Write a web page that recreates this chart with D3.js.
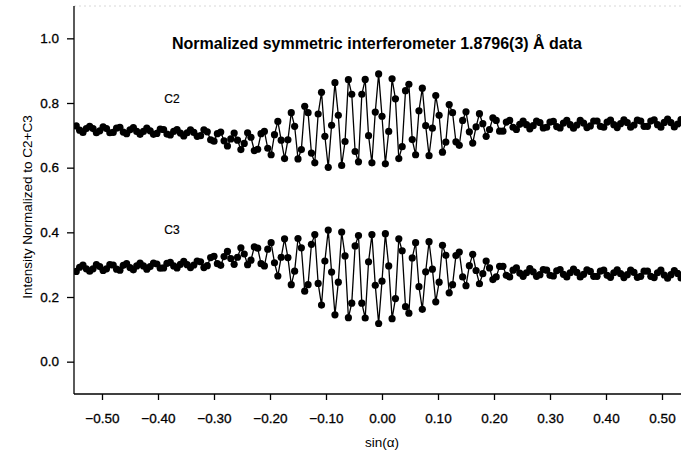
<!DOCTYPE html>
<html>
<head>
<meta charset="utf-8">
<script src="https://cdn.jsdelivr.net/npm/d3@7"></script>
<style>
    body { margin: 0; background: #fff; }
    svg { display: block; font-family: "Liberation Sans", Arial, sans-serif; }
</style>
</head>
<body>
<div id="chart"></div>
<script>
// DATA
// sin(alpha) sample positions
const sinAlpha = [
    -0.546, -0.540, -0.534, -0.528, -0.522, -0.516, -0.510, -0.504, -0.498, -0.492,
    -0.486, -0.480, -0.474, -0.468, -0.462, -0.456, -0.450, -0.444, -0.438, -0.432,
    -0.426, -0.420, -0.414, -0.408, -0.402, -0.396, -0.390, -0.384, -0.378, -0.372,
    -0.366, -0.360, -0.354, -0.348, -0.342, -0.336, -0.330, -0.324, -0.318, -0.312,
    -0.306, -0.300, -0.294, -0.288, -0.282, -0.276, -0.270, -0.264, -0.258, -0.252,
    -0.246, -0.240, -0.234, -0.228, -0.222, -0.216, -0.210, -0.204, -0.198, -0.192,
    -0.186, -0.180, -0.174, -0.168, -0.162, -0.156, -0.150, -0.144, -0.138, -0.132,
    -0.126, -0.120, -0.114, -0.108, -0.102, -0.096, -0.090, -0.084, -0.078, -0.072,
    -0.066, -0.060, -0.054, -0.048, -0.042, -0.036, -0.030, -0.024, -0.018, -0.012,
    -0.006, 0.000, 0.006, 0.012, 0.018, 0.024, 0.030, 0.036, 0.042, 0.048,
    0.054, 0.060, 0.066, 0.072, 0.078, 0.084, 0.090, 0.096, 0.102, 0.108,
    0.114, 0.120, 0.126, 0.132, 0.138, 0.144, 0.150, 0.156, 0.162, 0.168,
    0.174, 0.180, 0.186, 0.192, 0.198, 0.204, 0.210, 0.216, 0.222, 0.228,
    0.234, 0.240, 0.246, 0.252, 0.258, 0.264, 0.270, 0.276, 0.282, 0.288,
    0.294, 0.300, 0.306, 0.312, 0.318, 0.324, 0.330, 0.336, 0.342, 0.348,
    0.354, 0.360, 0.366, 0.372, 0.378, 0.384, 0.390, 0.396, 0.402, 0.408,
    0.414, 0.420, 0.426, 0.432, 0.438, 0.444, 0.450, 0.456, 0.462, 0.468,
    0.474, 0.480, 0.486, 0.492, 0.498, 0.504, 0.510, 0.516, 0.522, 0.528,
    0.534
];

// C2 normalized intensity
const c2Values = [
    .729, .716, .709, .721, .728, .721, .708, .714, .726, .721,
    .708, .709, .722, .725, .710, .705, .717, .724, .712, .703,
    .712, .722, .714, .703, .706, .719, .718, .704, .701, .712,
    .718, .707, .698, .708, .717, .709, .697, .699, .717, .711,
    .686, .682, .705, .710, .683, .667, .689, .707, .685, .656,
    .675, .708, .694, .653, .657, .705, .712, .660, .640, .702,
    .743, .685, .628, .686, .770, .728, .627, .656, .790, .770,
    .645, .615, .766, .833, .697, .601, .731, .863, .762, .607,
    .681, .872, .827, .650, .618, .827, .873, .699, .615, .772,
    .890, .759, .612, .712, .875, .813, .628, .665, .838, .858,
    .687, .640, .776, .846, .730, .637, .722, .823, .762, .648,
    .679, .795, .770, .680, .669, .746, .773, .711, .676, .726,
    .767, .736, .697, .718, .754, .746, .713, .713, .741, .746,
    .725, .718, .734, .744, .733, .720, .730, .744, .739, .723,
    .725, .741, .743, .727, .723, .738, .746, .733, .722, .732,
    .746, .738, .724, .729, .744, .744, .728, .725, .741, .747,
    .733, .724, .736, .748, .739, .725, .732, .747, .744, .728,
    .728, .744, .748, .733, .725, .740, .750, .739, .726, .735,
    .749
];

// C3 normalized intensity
const c3Values = [
    .279, .292, .299, .287, .280, .287, .300, .294, .282, .287,
    .300, .299, .286, .283, .298, .303, .291, .284, .296, .305,
    .296, .286, .294, .305, .302, .289, .290, .304, .307, .296,
    .290, .301, .310, .300, .291, .299, .311, .309, .291, .297,
    .322, .326, .303, .298, .325, .341, .319, .301, .323, .352,
    .333, .300, .314, .355, .351, .303, .296, .348, .368, .306,
    .265, .323, .380, .322, .238, .280, .381, .352, .218, .238,
    .363, .393, .242, .175, .311, .407, .277, .145, .246, .401,
    .327, .136, .181, .358, .390, .181, .135, .309, .393, .236,
    .118, .249, .396, .296, .133, .195, .380, .343, .170, .150,
    .321, .368, .232, .162, .278, .371, .286, .185, .246, .360,
    .329, .213, .238, .328, .339, .262, .235, .297, .332, .282,
    .241, .272, .311, .290, .254, .262, .295, .295, .267, .262,
    .283, .290, .274, .264, .275, .288, .278, .264, .269, .285,
    .283, .267, .265, .281, .285, .270, .262, .275, .286, .276,
    .262, .270, .284, .279, .264, .264, .280, .283, .267, .261,
    .275, .284, .272, .260, .269, .283, .276, .261, .264, .280,
    .280, .264, .260, .275, .283, .268, .258, .269, .282, .273,
    .259
];

// axis ticks
const xTicks = [-0.5, -0.4, -0.3, -0.2, -0.1, 0.0, 0.1, 0.2, 0.3, 0.4, 0.5];
const yTicks = [0.0, 0.2, 0.4, 0.6, 0.8, 1.0];

// labels
const titleText = "Normalized symmetric interferometer 1.8796(3) Å data";
const xLabel = "sin(α)";
const yLabel = "Intensity Normalized to C2+C3";
const seriesNames = ["C2", "C3"];

// CHART VARIABLES
const width = 681;
const height = 456;
const plotLeft = 74;
const plotTop = 6;
const plotBottom = 394;
const plotRight = 681;

const svg = d3.select("#chart")
    .append("svg")
        .attr("width", width)
        .attr("height", height);

const xScale = d3.scaleLinear()
    .domain([-0.55, 0.54])
    .range([plotLeft, 684.4]);
const yScale = d3.scaleLinear()
    .domain([-0.1, 1.1])
    .range([plotBottom, plotTop]);

svg.append("defs")
    .append("clipPath")
        .attr("id", "plot-clip")
    .append("rect")
        .attr("x", plotLeft)
        .attr("y", plotTop)
        .attr("width", plotRight - plotLeft)
        .attr("height", plotBottom - plotTop);

// faint top frame
svg.append("line")
    .attr("x1", plotLeft).attr("x2", plotRight)
    .attr("y1", plotTop).attr("y2", plotTop)
    .attr("stroke", "#d8d8d8")
    .attr("stroke-dasharray", "2,3");

// axes
const xAxis = d3.axisBottom(xScale)
    .tickValues(xTicks)
    .tickFormat(d3.format(".2f"))
    .tickSize(6)
    .tickSizeOuter(0)
    .tickPadding(13);
const yAxis = d3.axisLeft(yScale)
    .tickValues(yTicks)
    .tickFormat(d3.format(".1f"))
    .tickSize(7)
    .tickSizeOuter(0)
    .tickPadding(8);

const gx = svg.append("g")
    .attr("transform", `translate(0, ${plotBottom})`)
    .call(xAxis);
gx.select(".domain").attr("d", `M${plotLeft},0H${plotRight}`);

const gy = svg.append("g")
    .attr("transform", `translate(${plotLeft}, 0)`)
    .call(yAxis);
gy.select(".domain").attr("d", `M0,${plotTop}V${plotBottom}`);

svg.selectAll(".tick text")
    .attr("font-size", 13.5)
    .attr("font-family", "Liberation Sans, Arial, sans-serif")
    .attr("fill", "#000")
    .attr("stroke", "#000")
    .attr("stroke-width", 0.3);
svg.selectAll(".domain, .tick line")
    .attr("stroke", "#000")
    .attr("stroke-width", 1.3);

// series
const series = [c2Values, c3Values].map((vals, s) => ({
    name: seriesNames[s],
    points: vals.map((v, i) => [sinAlpha[i], v])
}));

const line = d3.line()
    .x(d => xScale(d[0]))
    .y(d => yScale(d[1]));

const plot = svg.append("g").attr("clip-path", "url(#plot-clip)");

plot.selectAll("path.trace")
    .data(series)
    .join("path")
        .attr("class", "trace")
        .attr("d", d => line(d.points))
        .attr("fill", "none")
        .attr("stroke", "#000")
        .attr("stroke-width", 1.3);

plot.selectAll("g.dots")
    .data(series)
    .join("g")
        .attr("class", "dots")
    .selectAll("circle")
    .data(d => d.points)
    .join("circle")
        .attr("cx", d => xScale(d[0]))
        .attr("cy", d => yScale(d[1]))
        .attr("r", 3.6)
        .attr("fill", "#000");

// text
svg.append("text")
    .attr("x", 377)
    .attr("y", 49)
    .attr("text-anchor", "middle")
    .attr("font-size", 16)
    .attr("font-weight", "bold")
    .text(titleText);

svg.append("text")
    .attr("x", 172)
    .attr("y", 103)
    .attr("text-anchor", "middle")
    .attr("font-size", 12)
    .attr("stroke", "#000")
    .attr("stroke-width", 0.2)
    .text(seriesNames[0]);

svg.append("text")
    .attr("x", 172)
    .attr("y", 234)
    .attr("text-anchor", "middle")
    .attr("font-size", 12)
    .attr("stroke", "#000")
    .attr("stroke-width", 0.2)
    .text(seriesNames[1]);

svg.append("text")
    .attr("x", 382)
    .attr("y", 447)
    .attr("text-anchor", "middle")
    .attr("font-size", 13.5)
    .text(xLabel);

svg.append("text")
    .attr("transform", "translate(32, 207) rotate(-90)")
    .attr("text-anchor", "middle")
    .attr("font-size", 13.5)
    .text(yLabel);
</script>
</body>
</html>
